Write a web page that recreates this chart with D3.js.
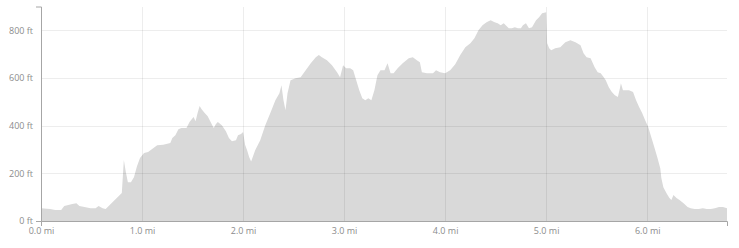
<!DOCTYPE html>
<html>
<head>
<meta charset="utf-8">
<script src="https://cdn.jsdelivr.net/npm/d3@7"></script>
<style>
  body { margin: 0; background: #fff; }
  .axis text { font-family: "Open Sans", sans-serif; font-size: 9px; fill: #8c8c8c; }
  .axis path { stroke: #a6a6a6; }
  .grid line { stroke: rgba(0,0,0,0.07); shape-rendering: crispEdges; }
</style>
</head>
<body>
<div id="chart"></div>
<script>
// distance along route (mi)
const miles = [
  0.00, 0.09, 0.14, 0.20, 0.23, 0.27, 0.31, 0.35, 0.38, 0.43, 0.49, 0.54, 0.57, 0.61, 0.64, 0.68,
  0.72, 0.75, 0.78, 0.80, 0.82, 0.84, 0.86, 0.89, 0.92, 0.95, 0.98, 1.02, 1.06, 1.10, 1.15, 1.21,
  1.28, 1.30, 1.33, 1.36, 1.39, 1.44, 1.47, 1.51, 1.53, 1.55, 1.57, 1.59, 1.62, 1.65, 1.67, 1.69,
  1.71, 1.73, 1.75, 1.79, 1.83, 1.86, 1.89, 1.93, 1.95, 1.98, 2.00, 2.02, 2.04, 2.06, 2.08, 2.12,
  2.17, 2.22, 2.27, 2.32, 2.36, 2.38, 2.40, 2.42, 2.44, 2.47, 2.52, 2.57, 2.62, 2.67, 2.72, 2.75,
  2.78, 2.83, 2.88, 2.93, 2.96, 2.99, 3.02, 3.06, 3.09, 3.12, 3.15, 3.18, 3.21, 3.24, 3.27, 3.30,
  3.33, 3.36, 3.40, 3.43, 3.46, 3.49, 3.53, 3.58, 3.64, 3.68, 3.72, 3.75, 3.77, 3.82, 3.88, 3.91,
  3.95, 4.00, 4.05, 4.10, 4.15, 4.20, 4.25, 4.29, 4.33, 4.37, 4.41, 4.45, 4.49, 4.52, 4.55, 4.58,
  4.60, 4.63, 4.66, 4.69, 4.72, 4.75, 4.77, 4.80, 4.83, 4.86, 4.90, 4.93, 4.96, 5.00, 5.01, 5.03,
  5.05, 5.09, 5.14, 5.19, 5.24, 5.29, 5.34, 5.37, 5.40, 5.44, 5.48, 5.51, 5.54, 5.57, 5.59, 5.62,
  5.65, 5.68, 5.71, 5.73, 5.74, 5.76, 5.78, 5.82, 5.86, 5.89, 5.92, 5.95, 5.98, 6.01, 6.04, 6.07,
  6.10, 6.13, 6.14, 6.16, 6.19, 6.22, 6.24, 6.26, 6.29, 6.32, 6.36, 6.40, 6.43, 6.47, 6.51, 6.55,
  6.59, 6.63, 6.67, 6.71, 6.75, 6.79
];

// elevation (ft)
const elevation = [
  54, 50, 46, 46, 63, 67, 71, 75, 63, 59, 54, 54, 63, 54, 50, 67,
  84, 96, 109, 117, 256, 205, 163, 163, 184, 230, 264, 285, 289, 302, 318, 320,
  327, 348, 360, 385, 390, 390, 415, 436, 419, 453, 482, 469, 453, 440, 423, 406,
  390, 406, 415, 402, 377, 348, 335, 339, 360, 365, 373, 320, 297, 269, 250, 297,
  339, 402, 453, 507, 536, 570, 507, 465, 536, 591, 599, 603, 633, 662, 687, 696,
  687, 675, 654, 624, 603, 654, 641, 641, 633, 591, 549, 515, 507, 515, 507, 549,
  612, 633, 633, 662, 620, 620, 641, 662, 683, 687, 675, 666, 624, 620, 620, 633,
  624, 620, 633, 658, 696, 729, 746, 767, 800, 821, 834, 842, 834, 830, 821, 830,
  821, 809, 809, 813, 809, 809, 821, 830, 809, 813, 842, 855, 872, 876, 746, 725,
  716, 725, 729, 750, 758, 750, 737, 704, 687, 683, 645, 624, 620, 603, 591, 561,
  541, 528, 520, 557, 578, 549, 549, 549, 541, 507, 478, 453, 423, 394, 352, 310,
  268, 220, 180, 142, 117, 96, 88, 109, 96, 88, 75, 59, 54, 50, 50, 54,
  50, 50, 54, 59, 59, 54
];

const xTicks = [0, 1, 2, 3, 4, 5, 6];
const yTicks = [0, 200, 400, 600, 800];

function drawProfile() {
    const width = 739, height = 248;
    const left = 41, right = 727, top = 6.5, bottom = 221;

    const data = miles.map(function(m, i) { return {mi: m, ft: elevation[i]}; });

    const svg = d3.select("#chart")
        .append("svg")
        .attr("width", width)
        .attr("height", height);

    const xScale = d3.scaleLinear()
        .domain([0, 6.79])
        .range([left, right]);

    const yScale = d3.scaleLinear()
        .domain([0, 900])
        .range([bottom, top]);

    // elevation area
    const area = d3.area()
        .x(function(d) { return xScale(d.mi); })
        .y0(yScale(0))
        .y1(function(d) { return yScale(d.ft); });

    svg.append("path")
        .datum(data)
        .attr("fill", "#d9d9d9")
        .attr("d", area);

    // grid lines on top of the fill
    const grid = svg.append("g").attr("class", "grid");
    grid.selectAll(".vgrid")
        .data(xTicks.filter(function(t) { return t > 0; }))
        .enter()
        .append("line")
        .attr("x1", function(t) { return Math.round(xScale(t)) + 0.5; })
        .attr("x2", function(t) { return Math.round(xScale(t)) + 0.5; })
        .attr("y1", top)
        .attr("y2", bottom);
    grid.selectAll(".hgrid")
        .data(yTicks.filter(function(t) { return t > 0; }))
        .enter()
        .append("line")
        .attr("x1", left)
        .attr("x2", right)
        .attr("y1", function(t) { return Math.round(yScale(t)) + 0.5; })
        .attr("y2", function(t) { return Math.round(yScale(t)) + 0.5; });

    // x axis
    svg.append("g")
        .attr("class", "axis")
        .attr("transform", `translate(0, ${bottom})`)
        .call(d3.axisBottom(xScale)
            .tickValues(xTicks)
            .tickSizeInner(0)
            .tickSizeOuter(5)
            .tickPadding(7)
            .tickFormat(function(d) { return d3.format(".1f")(d) + " mi"; }));

    // y axis
    svg.append("g")
        .attr("class", "axis")
        .attr("transform", `translate(${left}, 0)`)
        .call(d3.axisLeft(yScale)
            .tickValues(yTicks)
            .tickSizeInner(0)
            .tickSizeOuter(5)
            .tickPadding(8)
            .tickFormat(function(d) { return d + " ft"; }));
}

drawProfile();
</script>
</body>
</html>
